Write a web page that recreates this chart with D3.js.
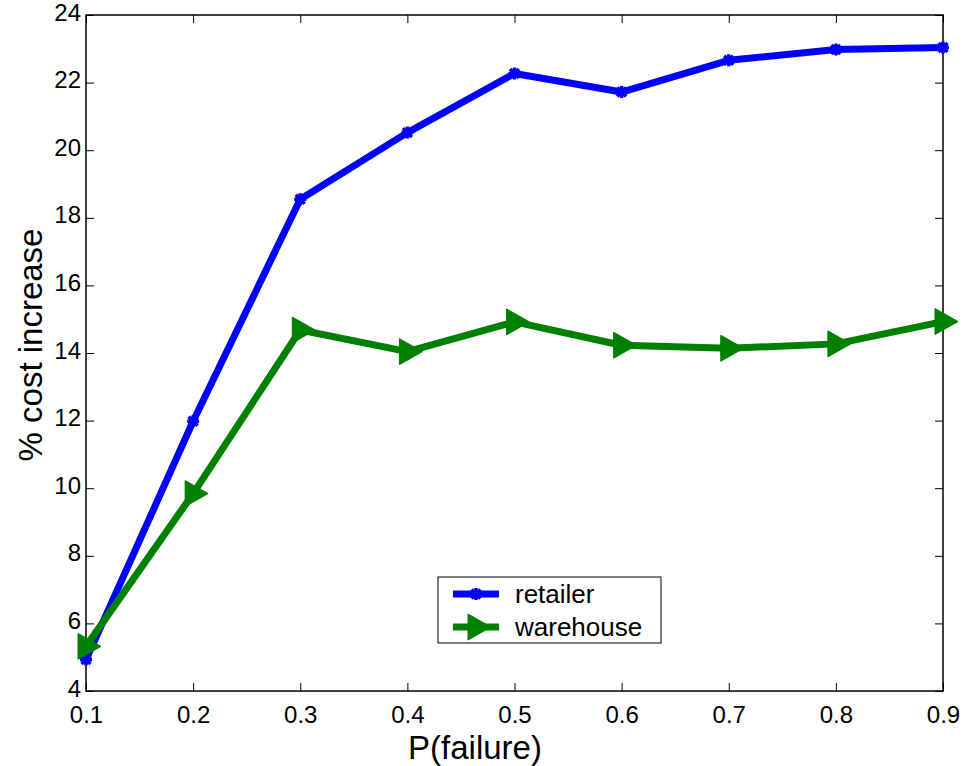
<!DOCTYPE html>
<html><head><meta charset="utf-8">
<script src="https://cdn.jsdelivr.net/npm/d3@7"></script>
<style>body{margin:0;background:#fff}svg{display:block}text{font-family:"Liberation Sans",Arial,sans-serif;fill:#000}</style>
</head><body><svg id="c" width="963" height="766"></svg>
<script>
const xValues = [0.1,0.2,0.3,0.4,0.5,0.6,0.7,0.8,0.9];
const retailer = [4.93,11.98,18.55,20.52,22.27,21.72,22.66,22.98,23.04];
const warehouse = [5.32,9.84,14.68,14.04,14.92,14.23,14.14,14.27,14.93];
const xTicks = [0.1,0.2,0.3,0.4,0.5,0.6,0.7,0.8,0.9];
const yTicks = [4,6,8,10,12,14,16,18,20,22,24];
const seriesNames = ["retailer","warehouse"];
const seriesColors = ["#0000ff","#008000"];

const svg = d3.select("#c");
const L=86,R=943,T=15,B=691;
const x = d3.scaleLinear().domain([0.1,0.9]).range([L,R]);
const y = d3.scaleLinear().domain([4,24]).range([B,T]);
const tickLen=8;

const gx = svg.append("g").attr("transform",`translate(0,${B})`)
  .call(d3.axisBottom(x).tickValues(xTicks).tickFormat(d3.format(".1f")).tickSizeInner(-tickLen).tickSizeOuter(0));
const gy = svg.append("g").attr("transform",`translate(${L},0)`)
  .call(d3.axisLeft(y).tickValues(yTicks).tickFormat(d3.format("d")).tickSizeInner(-tickLen).tickSizeOuter(0));
const gxt = svg.append("g").attr("transform",`translate(0,${T})`)
  .call(d3.axisTop(x).tickValues(xTicks).tickFormat("").tickSizeInner(-tickLen).tickSizeOuter(0));
const gyr = svg.append("g").attr("transform",`translate(${R},0)`)
  .call(d3.axisRight(y).tickValues(yTicks).tickFormat("").tickSizeInner(-tickLen).tickSizeOuter(0));
[gx,gy,gxt,gyr].forEach(g=>{
  g.attr("font-size",null).attr("font-family",null);
  g.select(".domain").remove();
  g.selectAll(".tick line").attr("stroke","#000").attr("stroke-width",1);
  g.selectAll("text").style("font-size","24px").attr("fill","#000");
});
gy.selectAll("text").attr("x",-5).attr("dy",null).attr("y",5);
gx.selectAll("text").attr("dy",null).attr("y",32);
svg.append("rect").attr("x",L).attr("y",T).attr("width",R-L).attr("height",B-T)
  .attr("fill","none").attr("stroke","#000").attr("stroke-width",1.5);

svg.append("text").attr("x",475).attr("y",759).attr("text-anchor","middle").style("font-size","33px").text("P(failure)");
svg.append("text").attr("transform",`translate(42,${(T+B)/2-8}) rotate(-90)`).attr("text-anchor","middle").style("font-size","33px").text("% cost increase");

const line = d3.line().x(d=>x(d[0])).y(d=>y(d[1]));
const data = [retailer,warehouse].map(s=>xValues.map((v,i)=>[v,s[i]]));

const starPath = "M-6,0L6,0M0,-6L0,6M-4.5,-4.5L4.5,4.5M-4.5,4.5L4.5,-4.5";
const triPath = "M-8,-13L-8,13L15,0Z";

function marker(g,type,color){
  if(type===0){
    g.append("path").attr("d",starPath).attr("stroke",color).attr("stroke-width",3.5).attr("fill","none");
    g.append("circle").attr("r",3.5).attr("fill",color);
  } else {
    g.append("path").attr("d",triPath).attr("fill",color).attr("stroke",color).attr("stroke-width",1);
  }
}

data.forEach((d,k)=>{
  svg.append("path").datum(d).attr("d",line).attr("fill","none")
    .attr("stroke",seriesColors[k]).attr("stroke-width",7).attr("stroke-linejoin","round");
  d.forEach(p=>{
    const g = svg.append("g").attr("transform",`translate(${x(p[0])},${y(p[1])})`);
    marker(g,k,seriesColors[k]);
  });
});

const lg = svg.append("g");
lg.append("rect").attr("x",438).attr("y",577).attr("width",223).attr("height",66)
  .attr("fill","#fff").attr("stroke","#000").attr("stroke-width",1);
seriesNames.forEach((n,k)=>{
  const yy = k===0?594:627;
  lg.append("line").attr("x1",453).attr("x2",499).attr("y1",yy).attr("y2",yy)
    .attr("stroke",seriesColors[k]).attr("stroke-width",7);
  const g = lg.append("g").attr("transform",`translate(476,${yy})`);
  marker(g,k,seriesColors[k]);
  lg.append("text").attr("x",515).attr("y",yy).attr("dy","0.36em").style("font-size","26px").text(n);
});
</script></body></html>
